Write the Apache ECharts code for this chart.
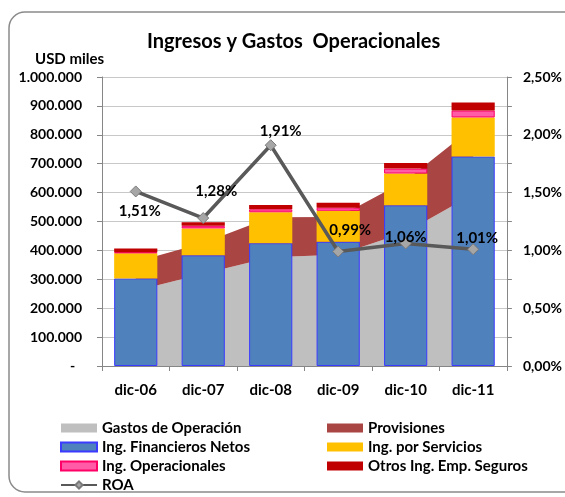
<!DOCTYPE html>
<html><head><meta charset="utf-8">
<script src="https://cdn.jsdelivr.net/npm/echarts@6/dist/echarts.min.js"></script>
<style>html,body{margin:0;padding:0;background:#fff}#c{width:565px;height:497px}</style>
</head><body><div id="c"></div>
<script>
// ---- data ----
const categories = ['dic-06', 'dic-07', 'dic-08', 'dic-09', 'dic-10', 'dic-11'];
const gastosOperacion = [260000, 319000, 376000, 385000, 463000, 594000];
const provisiones = [101000, 107000, 139000, 131000, 178000, 232000];
const ingFinancieros = [303000, 383000, 425000, 430000, 556000, 725000];
const ingServicios = [87000, 93000, 107000, 107000, 110000, 135000];
const ingOperacionales = [4000, 9000, 10000, 11000, 17000, 24000];
const otrosIngSeguros = [13000, 12000, 15000, 17000, 19000, 28000];
const roa = [1.51, 1.28, 1.91, 0.99, 1.06, 1.01];
const leftAxis = { min: 0, max: 1000000, interval: 100000 };
const rightAxis = { min: 0, max: 2.5, interval: 0.25, labelStep: 0.5 };

// ---- styling ----
const FONT = 'Lato';
const roaLabelOffsets = [[4, 20], [13, -27], [10, -14], [12, -21], [0, -6], [4, -11]];

const fmtThousands = v => v === 0 ? '-  ' : String(v).replace(/\B(?=(\d{3})+(?!\d))/g, '.');
const fmtPct = v => {
  const r = v / rightAxis.labelStep;
  if (Math.abs(r - Math.round(r)) > 1e-6) return '';
  return v.toFixed(2).replace('.', ',') + '%';
};

const chart = echarts.init(document.getElementById('c'), null, { renderer: 'canvas' });
const axisColor = '#868686';
const textBase = { fontFamily: FONT, fontWeight: 'bold', color: '#000' };
const legendCommon = {
  orient: 'vertical', top: 420, height: 110, padding: 0, itemWidth: 36, itemHeight: 9, itemGap: 3,
  textStyle: Object.assign({}, textBase, { fontSize: 15, lineHeight: 16 })
};

const option = {
  backgroundColor: '#fff',
  animation: false,
  textStyle: { fontFamily: FONT },
  title: [
    { text: 'Ingresos y Gastos  Operacionales', left: 142, top: 27,
      textStyle: Object.assign({}, textBase, { fontSize: 20 }) },
    { text: 'USD miles', left: 30, top: 47,
      textStyle: Object.assign({}, textBase, { fontSize: 15 }) }
  ],
  graphic: [{
    type: 'rect', shape: { x: 9, y: 12, width: 600, height: 480, r: 16 },
    style: { fill: 'none', stroke: '#8a8a8a', lineWidth: 1.5 }, z: -1
  }],
  grid: { left: 102, right: 52, top: 77, bottom: 131 },
  legend: [
    Object.assign({}, legendCommon, { left: 60,
      data: [{ name: 'Gastos de Operación', icon: 'rect' }, { name: 'Ing. Financieros Netos', icon: 'rect' },
             { name: 'Ing. Operacionales', icon: 'rect' }, { name: 'ROA' }] }),
    Object.assign({}, legendCommon, { left: 327,
      data: [{ name: 'Provisiones', icon: 'rect' }, { name: 'Ing. por Servicios', icon: 'rect' },
             { name: 'Otros Ing. Emp. Seguros', icon: 'rect' }] })
  ],
  xAxis: {
    type: 'category', data: categories, boundaryGap: true,
    axisLine: { lineStyle: { color: axisColor, width: 1 } },
    axisTick: { show: true, length: 5, lineStyle: { color: axisColor } },
    axisLabel: Object.assign({}, textBase, { fontSize: 15, margin: 17 })
  },
  yAxis: [
    { type: 'value', min: leftAxis.min, max: leftAxis.max, interval: leftAxis.interval,
      axisLine: { show: true, lineStyle: { color: axisColor } },
      axisTick: { show: true, length: 5, lineStyle: { color: axisColor } },
      splitLine: { show: true, lineStyle: { color: '#c8c8c8', width: 1 } },
      axisLabel: Object.assign({}, textBase, { fontSize: 14, margin: 20, formatter: fmtThousands })
    },
    { type: 'value', min: rightAxis.min, max: rightAxis.max, interval: rightAxis.interval,
      axisLine: { show: true, lineStyle: { color: axisColor } },
      axisTick: { show: true, length: 5, lineStyle: { color: axisColor } },
      splitLine: { show: false },
      axisLabel: Object.assign({}, textBase, { fontSize: 14, margin: 16, formatter: fmtPct })
    }
  ],
  series: [
    { name: 'Gastos de Operación', type: 'line', stack: 'gastos', data: gastosOperacion,
      symbol: 'none', lineStyle: { width: 0 }, areaStyle: { color: '#bfbfbf', opacity: 1 },
      itemStyle: { color: '#bfbfbf' }, z: 1 },
    { name: 'Provisiones', type: 'line', stack: 'gastos', data: provisiones,
      symbol: 'none', lineStyle: { width: 0 }, areaStyle: { color: '#a94543', opacity: 1 },
      itemStyle: { color: '#a94543' }, z: 1 },
    { name: 'Ing. Financieros Netos', type: 'bar', stack: 'ing', data: ingFinancieros, barWidth: '64%',
      itemStyle: { color: '#4f81bd', borderColor: '#3b3bff', borderWidth: 1 }, z: 2 },
    { name: 'Ing. por Servicios', type: 'bar', stack: 'ing', data: ingServicios,
      itemStyle: { color: '#ffc000' }, z: 2 },
    { name: 'Ing. Operacionales', type: 'bar', stack: 'ing', data: ingOperacionales,
      itemStyle: { color: '#ff5ba7', borderColor: '#ff0066', borderWidth: 1 }, z: 2 },
    { name: 'Otros Ing. Emp. Seguros', type: 'bar', stack: 'ing', data: otrosIngSeguros,
      itemStyle: { color: '#c00000' }, z: 2 },
    { name: 'ROA', type: 'line', yAxisIndex: 1, z: 5,
      data: roa.map((v, i) => ({ value: v, label: { offset: roaLabelOffsets[i] } })),
      symbol: 'diamond', symbolSize: 11,
      lineStyle: { color: '#595959', width: 3.5 },
      itemStyle: { color: '#a6a6a6', borderColor: '#7a7a7a', borderWidth: 1 },
      label: Object.assign({}, textBase, { show: true, position: 'inside', fontSize: 15,
        formatter: p => p.value.toFixed(2).replace('.', ',') + '%' })
    }
  ]
};
chart.setOption(option);
</script></body></html>
